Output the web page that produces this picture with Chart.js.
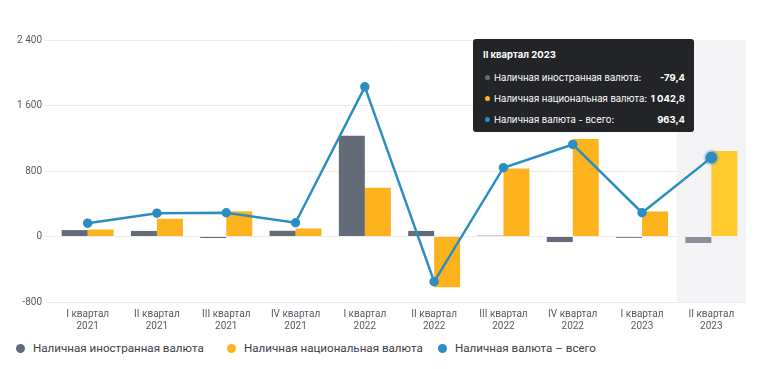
<!DOCTYPE html>
<html>
<head>
<meta charset="utf-8">
<script src="https://cdn.jsdelivr.net/npm/chart.js@4"></script>
<style>
  html, body { margin: 0; padding: 0; background: #fff; }
  #wrap { position: relative; width: 758px; height: 369px; }
  #box { position: relative; width: 758px; height: 340px; }
  #tip {
    position: absolute; background: #232427; color: #fff; border-radius: 3px;
    font-family: Inter, "Noto Sans", sans-serif; font-size: 9.5px; padding: 9px 9px 6px 10px;
    pointer-events: none; box-sizing: border-box; width: 221px;
  }
  #tip .t { font-weight: 700; font-size: 9.5px; line-height: 13px; margin-bottom: 10px; }
  #tip table { border-collapse: collapse; width: 100%; }
  #tip td { padding: 0 0 8px 0; line-height: 13px; white-space: nowrap; }
  #tip tr:last-child td { padding-bottom: 0; }
  #tip td.v { text-align: right; font-weight: 700; padding-left: 3px; }
  #tip .dot { display: inline-block; width: 5px; height: 5px; border-radius: 50%; margin: 0 4px 0 2px; vertical-align: 1px; }
  #legend { position: absolute; left: 16px; top: 340px; display: flex; font-family: Roboto, sans-serif; font-size: 11.6px; color: #3c4048; line-height: 16px; }
  #legend .item { display: flex; align-items: center; width: 211px; white-space: nowrap; }
  #legend .item:last-child { width: auto; }
  #legend .sw { width: 9px; height: 9px; border-radius: 50%; margin-right: 8px; }
</style>
</head>
<body>
<div id="wrap">
  <div id="box"><canvas id="chart"></canvas></div>
  <div id="tip"></div>
  <div id="legend"></div>
</div>
<script>
// quarters on the x axis (label, year)
var quarters = ['I квартал', 'II квартал', 'III квартал', 'IV квартал', 'I квартал', 'II квартал', 'III квартал', 'IV квартал', 'I квартал', 'II квартал'];
var years = ['2021', '2021', '2021', '2021', '2022', '2022', '2022', '2022', '2023', '2023'];

var foreignCash = [78, 68, -18, 70, 1232, 68, 10, -68, -16, -79.4];
var nationalCash = [85, 217, 308, 98, 596, -620, 830, 1192, 306, 1042.8];
var totalCash = [163, 285, 290, 168, 1828, -552, 840, 1124, 290, 963.4];

var yTicks = [-800, 0, 800, 1600, 2400];

var labels = quarters.map(function (q, i) { return [q, years[i]]; });

function fmt(v, dec) {
    var s = Math.abs(v).toFixed(dec).split('.');
    var intPart = s[0].replace(/\B(?=(\d{3})+(?!\d))/g, ' ');
    return (v < 0 ? '-' : '') + intPart + (s[1] ? ',' + s[1] : '');
}

var hoverIndex = 9;
var seriesOrder = [1, 2, 0];

// light background behind the hovered quarter
var hoverBg = {
    id: 'hoverBg',
    beforeDatasetsDraw: function (chart) {
        var x = chart.scales.x, area = chart.chartArea, ctx = chart.ctx;
        var w = (x.getPixelForValue(1) - x.getPixelForValue(0));
        var left = x.getPixelForValue(hoverIndex) - w / 2;
        ctx.save();
        ctx.fillStyle = '#f4f4f6';
        ctx.fillRect(left, area.top, Math.min(w, area.right - left), area.bottom - area.top);
        ctx.restore();
    }
};

function externalTip(context) {
    var tip = document.getElementById('tip');
    var t = context.tooltip;
    if (t.opacity === 0) { tip.style.display = 'none'; return; }
    var html = '<div class="t">' + t.title.join(' ') + '</div><table>';
    t.dataPoints.forEach(function (dp, i) {
        var c = t.labelColors[i].backgroundColor;
        html += '<tr><td><span class="dot" style="background:' + c + '"></span>' + dp.dataset.label + ':</td>' +
            '<td class="v">' + fmt(dp.raw, 1) + '</td></tr>';
    });
    html += '</table>';
    tip.innerHTML = html;
    tip.style.display = 'block';
    tip.style.left = '473px';
    tip.style.top = '39px';
}

var ctx = document.getElementById('chart').getContext('2d');
var chart = new Chart(ctx, {
    data: {
        labels: labels,
        datasets: [{
            type: 'line',
            label: 'Наличная валюта - всего',
            data: totalCash,
            borderColor: '#2c8dc3',
            backgroundColor: '#2c8dc3',
            borderWidth: 2.5,
            pointRadius: 3.5,
            pointHoverRadius: 6,
            pointHoverBorderWidth: 4,
            pointHoverBackgroundColor: '#2c8dc3',
            pointHoverBorderColor: 'rgba(44,141,195,0.25)',
            tension: 0,
            order: 0
        }, {
            type: 'bar',
            label: 'Наличная иностранная валюта',
            data: foreignCash,
            backgroundColor: '#646b78',
            hoverBackgroundColor: '#8a8f9c',
            barPercentage: 1,
            categoryPercentage: 0.75,
            order: 1
        }, {
            type: 'bar',
            label: 'Наличная национальная валюта',
            data: nationalCash,
            backgroundColor: '#fdb31e',
            hoverBackgroundColor: '#ffcb2e',
            barPercentage: 1,
            categoryPercentage: 0.75,
            order: 1
        }]
    },
    options: {
        responsive: true,
        maintainAspectRatio: false,
        animation: false,
        layout: { padding: { left: 5, right: 12, top: 40, bottom: 2 } },
        interaction: { mode: 'index', intersect: false },
        scales: {
            x: {
                grid: { display: false, drawTicks: false },
                border: { display: false },
                ticks: { color: '#555a63', font: { family: 'Roboto', size: 10 }, maxRotation: 0, padding: 6 }
            },
            y: {
                min: -800,
                max: 2400,
                afterBuildTicks: function (axis) {
                    axis.ticks = yTicks.map(function (v) { return { value: v }; });
                },
                afterFit: function (axis) { axis.width = 48; },
                grid: { color: '#ebebef', lineWidth: 1, tickLength: 8 },
                border: { display: false },
                ticks: {
                    color: '#555a63',
                    font: { family: 'Roboto', size: 10 },
                    padding: 3,
                    callback: function (v) { return fmt(v, 0); }
                }
            }
        },
        plugins: {
            legend: { display: false },
            tooltip: {
                enabled: false,
                external: externalTip,
                itemSort: function (a, b) { return seriesOrder.indexOf(a.datasetIndex) - seriesOrder.indexOf(b.datasetIndex); },
                callbacks: {
                    title: function (items) { return items[0].label.split(',').join(' '); }
                }
            }
        }
    },
    plugins: [hoverBg]
});

// legend below the chart, built from the datasets
var legend = document.getElementById('legend');
seriesOrder.forEach(function (i) {
    var ds = chart.data.datasets[i];
    var item = document.createElement('div');
    item.className = 'item';
    var color = ds.type === 'line' ? ds.borderColor : ds.backgroundColor;
    item.innerHTML = '<span class="sw" style="background:' + color + '"></span>' + ds.label.replace(' - ', ' – ');
    legend.appendChild(item);
});

var active = seriesOrder.map(function (d) { return { datasetIndex: d, index: hoverIndex }; });
chart.setActiveElements(active);
chart.tooltip.setActiveElements(active, { x: 712, y: 156 });
chart.update('none');
</script>
</body>
</html>
